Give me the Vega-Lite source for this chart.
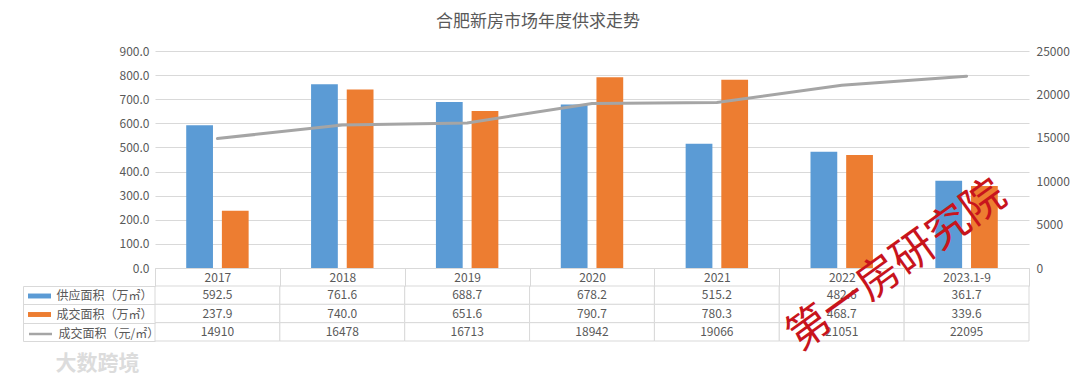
{
  "$schema": "https://vega.github.io/schema/vega-lite/v6.json",
  "padding": {"left": 22, "top": 13, "right": 5, "bottom": 5},
  "background": "white",
  "title": {"text": "合肥新房市场年度供求走势", "fontSize": 17, "font": "Noto Sans CJK SC", "fontWeight": "normal", "color": "#595959", "anchor": "middle", "offset": 14, "dx": -8},
  "config": {
    "view": {"stroke": null},
    "font": "Noto Sans CJK SC",
    "axis": {"labelFont": "Noto Sans CJK SC", "labelColor": "#595959", "labelFontSize": 12},
    "legend": {"labelFont": "Noto Sans CJK SC", "labelColor": "#595959", "labelFontSize": 12}
  },
  "datasets": {
    "d": [
      {"year": "2017", "供应面积（万㎡）": 592.5, "成交面积（万㎡）": 237.9, "成交面积（元/㎡）": 14910},
      {"year": "2018", "供应面积（万㎡）": 761.6, "成交面积（万㎡）": 740.0, "成交面积（元/㎡）": 16478},
      {"year": "2019", "供应面积（万㎡）": 688.7, "成交面积（万㎡）": 651.6, "成交面积（元/㎡）": 16713},
      {"year": "2020", "供应面积（万㎡）": 678.2, "成交面积（万㎡）": 790.7, "成交面积（元/㎡）": 18942},
      {"year": "2021", "供应面积（万㎡）": 515.2, "成交面积（万㎡）": 780.3, "成交面积（元/㎡）": 19066},
      {"year": "2022", "供应面积（万㎡）": 482.6, "成交面积（万㎡）": 468.7, "成交面积（元/㎡）": 21051},
      {"year": "2023.1-9", "供应面积（万㎡）": 361.7, "成交面积（万㎡）": 339.6, "成交面积（元/㎡）": 22095}
    ]
  },
  "spacing": 18,
  "bounds": "flush",
  "resolve": {"scale": {"x": "independent", "y": "independent", "color": "independent"}},
  "vconcat": [
    {
      "width": 874,
      "height": 217,
      "data": {"name": "d"},
      "encoding": {
        "x": {"field": "year", "type": "nominal", "sort": null, "scale": {"paddingInner": 0.5, "paddingOuter": 0.25},
          "axis": {"labels": false, "ticks": false, "domain": true, "domainColor": "#d9d9d9", "title": null, "grid": false}}
      },
      "layer": [
        {
          "transform": [{"fold": ["供应面积（万㎡）", "成交面积（万㎡）"], "as": ["series", "value"]}],
          "mark": {"type": "bar"},
          "encoding": {
            "xOffset": {"field": "series", "type": "nominal", "scale": {"domain": ["供应面积（万㎡）", "成交面积（万㎡）"], "paddingInner": 0.25}},
            "y": {"field": "value", "type": "quantitative", "scale": {"domain": [0, 900]},
              "axis": {"values": [0, 100, 200, 300, 400, 500, 600, 700, 800, 900], "format": ".1f", "title": null, "grid": true, "gridColor": "#d9d9d9", "domain": false, "ticks": false, "labelPadding": 6}},
            "color": {"field": "series", "type": "nominal",
              "scale": {"domain": ["供应面积（万㎡）", "成交面积（万㎡）"], "range": ["#5b9bd5", "#ed7d31"]},
              "legend": {"orient": "none", "legendX": -121.5, "legendY": 239, "title": null, "padding": 0, "symbolType": "M-2,-0.43H2V0.43H-2Z", "symbolSize": 132, "symbolStrokeWidth": 0, "labelOffset": 11, "rowPadding": 6.5}}
          }
        },
        {
          "mark": {"type": "line", "strokeWidth": 3, "strokeCap": "round"},
          "encoding": {
            "y": {"field": "成交面积（元/㎡）", "type": "quantitative", "scale": {"domain": [0, 25000]},
              "axis": {"orient": "right", "values": [0, 5000, 10000, 15000, 20000, 25000], "format": "d", "title": null, "grid": false, "domain": false, "ticks": false, "labelPadding": 7}},
            "stroke": {"datum": "成交面积（元/㎡）", "type": "nominal", "scale": {"range": ["#a5a5a5"]},
              "legend": {"orient": "none", "legendX": -121.5, "legendY": 276, "title": null, "padding": 0, "symbolType": "M-2,0H2", "symbolSize": 132, "symbolStrokeWidth": 2.5, "labelOffset": 11}}
          }
        }
      ],
      "resolve": {"scale": {"y": "independent"}}
    },
    {
      "width": 874,
      "height": 55,
      "data": {"name": "d"},
      "encoding": {
        "x": {"field": "year", "type": "nominal", "sort": null, "scale": {"paddingInner": 0, "paddingOuter": 0},
          "axis": {"orient": "top", "labels": true, "labelBaseline": "middle", "labelPadding": -9, "ticks": true, "tickBand": "extent", "tickSize": 18, "tickColor": "#d9d9d9", "domain": false, "title": null, "grid": false, "labelAngle": 0}}
      },
      "layer": [
        {
          "transform": [{"fold": ["供应面积（万㎡）", "成交面积（万㎡）", "成交面积（元/㎡）"], "as": ["series", "value"]}],
          "mark": {"type": "rect", "fill": "white", "stroke": "#d9d9d9", "strokeWidth": 1},
          "encoding": {
            "y": {"field": "series", "type": "nominal",
              "scale": {"domain": ["供应面积（万㎡）", "成交面积（万㎡）", "成交面积（元/㎡）"], "paddingInner": 0, "paddingOuter": 0},
              "axis": {"labels": false, "domain": true, "domainColor": "#d9d9d9", "offset": 132, "ticks": true, "tickBand": "extent", "tickSize": -132, "tickColor": "#d9d9d9", "title": null, "grid": false}}
          }
        },
        {
          "transform": [{"fold": ["供应面积（万㎡）", "成交面积（万㎡）"], "as": ["series", "value"]}],
          "mark": {"type": "text", "fontSize": 12, "color": "#595959", "font": "Noto Sans CJK SC"},
          "encoding": {"y": {"field": "series", "type": "nominal"}, "text": {"field": "value", "type": "quantitative", "format": ".1f"}}
        },
        {
          "mark": {"type": "text", "fontSize": 12, "color": "#595959", "font": "Noto Sans CJK SC"},
          "encoding": {"y": {"datum": "成交面积（元/㎡）", "type": "nominal"}, "text": {"field": "成交面积（元/㎡）", "type": "quantitative", "format": "d"}}
        },
        {
          "data": {"values": [{"label": "第一房研究院"}]},
          "mark": {"type": "text", "fontSize": 43, "color": "#c8141c", "font": "Noto Sans CJK SC", "angle": 324.2, "align": "center", "baseline": "middle"},
          "encoding": {
            "x": {"datum": "2023.1-9", "bandPosition": -0.06},
            "y": {"datum": "供应面积（万㎡）", "bandPosition": -1.1},
            "text": {"field": "label"}
          }
        },
        {
          "data": {"values": [{"label": "大数跨境"}]},
          "mark": {"type": "text", "fontSize": 21, "fontWeight": "bold", "color": "#dcdcdc", "font": "Noto Sans CJK SC", "align": "center", "baseline": "middle"},
          "encoding": {
            "x": {"datum": "2017", "bandPosition": -0.46},
            "y": {"datum": "成交面积（元/㎡）", "bandPosition": 2.25},
            "text": {"field": "label"}
          }
        }
      ]
    }
  ]
}
